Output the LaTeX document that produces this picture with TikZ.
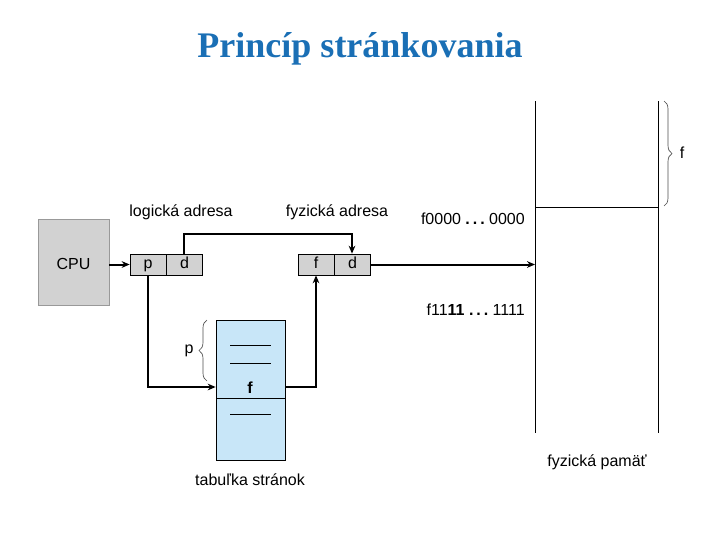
\documentclass[tikz,border=0pt]{standalone}
\usepackage{fontspec}
\setmainfont{Liberation Sans}
\newfontfamily\titlefont{Liberation Serif}
\usetikzlibrary{arrows.meta,decorations.pathreplacing}
\definecolor{titleblue}{RGB}{26,111,181}
\definecolor{boxgray}{RGB}{210,210,210}
\definecolor{tblue}{RGB}{200,230,248}
\newcommand{\bdots}{{\bfseries .\hspace{2.2pt}.\hspace{2.2pt}.}}
\begin{document}
\begin{tikzpicture}[x=0.75pt,y=-0.75pt,
  lbl/.style={font=\fontsize{12}{14}\selectfont, inner sep=0pt},
  cell/.style={draw, fill=boxgray, minimum width=27pt, minimum height=15.75pt, inner sep=0pt, text height=8.6pt, text depth=2.4pt, font=\fontsize{12}{14}\selectfont, line width=0.5pt},
  thick line/.style={line width=1.5pt, -{Stealth[length=6pt,width=5pt]}},
  thin line/.style={line width=1pt, -{Stealth[length=6pt,width=5pt]}},
  memline/.style={line width=0.6pt},
  brc/.style={decorate, decoration={brace, amplitude=6pt}, line width=0.5pt, draw=black!70}
]
\useasboundingbox (0,0) rectangle (720,540);
% title
\node[font=\titlefont\bfseries\fontsize{27}{30}\selectfont, text=titleblue, inner sep=0pt] (title) at (360,49) {Princíp stránkovania};
% CPU
\node[draw=black!40, fill=boxgray, minimum width=53.25pt, minimum height=64.5pt, inner sep=0pt] (cpu) at (73.5,262) {};
\node[lbl] (cputxt) at (73.5,264) {CPU};
% logical address
\node[cell] (lp) at (148,264.5) {p};
\node[cell, anchor=west] (ld) at (lp.east) {d};
\node[lbl] (llab) at (181,212) {logická adresa};
% physical address
\node[cell] (pf) at (316,264.5) {f};
\node[cell, anchor=west] (pd) at (pf.east) {d};
\node[lbl] (plab) at (337,212) {fyzická adresa};
% page table
\node[draw, fill=tblue, minimum width=51.75pt, minimum height=105pt, inner sep=0pt, line width=0.5pt] (tab) at (250.5,390) {};
\draw[line width=0.5pt] (216,398) -- (285,398);
\draw[line width=0.6pt] (230,345) -- (271,345);
\draw[line width=0.6pt] (230,363) -- (271,363);
\draw[line width=0.6pt] (230,414) -- (271,414);
\node[lbl, font=\bfseries\fontsize{12}{14}\selectfont] (tf) at (250,388) {f};
\draw[brc] (207,381) -- (207,320);
\node[lbl] (tp) at (189,351) {p};
\node[lbl] (tlab) at (250,480) {tabuľka stránok};
% memory
\coordinate (m1) at (535,101);
\coordinate (m2) at (535,433);
\coordinate (m3) at (658,101);
\coordinate (m4) at (658,433);
\coordinate (mh) at (658,207);
\draw[memline] (m1) -- (m2);
\draw[memline] (m3) -- (m4);
\draw[memline] (535,207) -- (mh);
\draw[brc] (664,101) -- (664,206);
\node[lbl] (mf) at (682,153) {f};
\node[lbl, anchor=east] (a0) at (525,219) {f0000 \bdots\ 0000};
\node[lbl, anchor=east] (a1) at (525,310) {f11{\bfseries 11} \bdots\ 1111};
\node[lbl] (mlab) at (597,462) {fyzická pamäť};
% connectors
\coordinate (mem) at (535,264.5);
\draw[thick line] (cpu.east |- lp.west) -- (lp.west);
\draw[thick line] (ld.north -| 184,0) |- (352,234) -- (pd.north -| 352,0);
\draw[thick line] (pd.east) -- (mem);
\draw[thick line] (lp.south) |- (tab.west |- 0,387);
\draw[thin line] (tab.east |- 0,387) -| (pf.south);
\end{tikzpicture}
\end{document}
